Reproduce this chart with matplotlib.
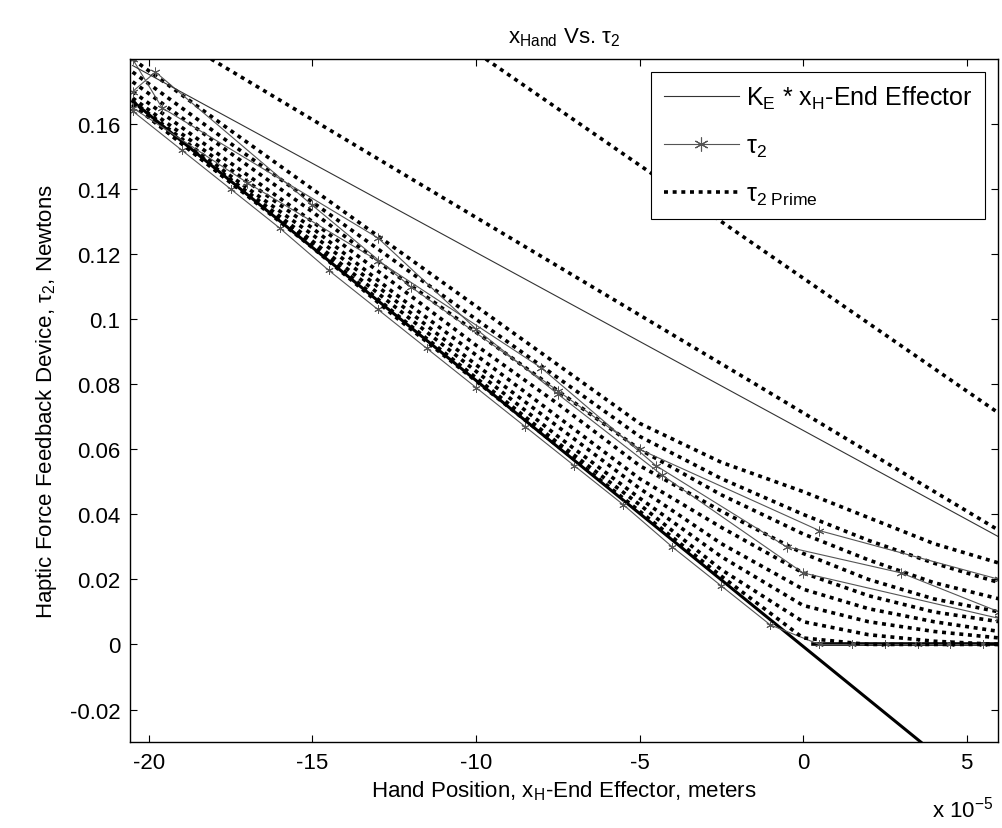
import matplotlib
matplotlib.use("Agg")
import matplotlib.pyplot as plt
import numpy as np

plt.rcParams["font.family"] = ["Liberation Sans", "DejaVu Sans"]
plt.rcParams["mathtext.fontset"] = "custom"
plt.rcParams["mathtext.rm"] = "Liberation Sans"
plt.rcParams["mathtext.it"] = "Liberation Sans"
plt.rcParams["mathtext.default"] = "rm"
plt.rcParams["axes.unicode_minus"] = False

# x positions in units of 1e-5 m
x_fan = [-20.5, -17.5, -15, -12.5, -10, -7.5, -5, -2.5, 0, 2, 4, 6]

# tau_2 prime curves (dotted)
prime_curves = [
    [0.180, 0.158, 0.140, 0.122, 0.104, 0.086, 0.068, 0.056, 0.047, 0.039, 0.031, 0.025],
    [0.176, 0.154, 0.136, 0.118, 0.100, 0.082, 0.064, 0.051, 0.040, 0.032, 0.025, 0.019],
    [0.173, 0.151, 0.133, 0.114, 0.096, 0.078, 0.060, 0.046, 0.034, 0.026, 0.019, 0.014],
    [0.170, 0.148, 0.130, 0.111, 0.092, 0.074, 0.055, 0.041, 0.028, 0.020, 0.014, 0.010],
    [0.168, 0.146, 0.128, 0.108, 0.089, 0.070, 0.051, 0.036, 0.022, 0.015, 0.010, 0.007],
    [0.167, 0.144, 0.126, 0.106, 0.086, 0.067, 0.048, 0.031, 0.017, 0.011, 0.007, 0.004],
    [0.166, 0.143, 0.124, 0.104, 0.084, 0.064, 0.045, 0.027, 0.012, 0.007, 0.004, 0.002],
    [0.166, 0.142, 0.123, 0.102, 0.082, 0.062, 0.043, 0.023, 0.007, 0.003, 0.001, 0.000],
    [0.166, 0.142, 0.122, 0.101, 0.081, 0.061, 0.041, 0.021, 0.002, 0.000, 0.000, 0.000],
]

# two long dotted curves at the top right
d1_x = [-9.7, 6.0]
d1_y = [0.180, 0.071]
d2_x = [-18.1, -11.7, -1.7, 6.0]
d2_y = [0.180, 0.1415, 0.0815, 0.035]

# K_E * x_H lines
ke_thin_x = [-20.5, 6.0]
ke_thin_y = [0.178, 0.033]
ke_thick_x = [-20.5, 3.6]
ke_thick_y = [0.167, -0.030]
zero_x = [0.3, 6.0]
zero_y = [0.0, 0.0]

# tau_2 curves (thin gray with stars)
tau_curves = [
    ([-20.5, -19.6, -13.0, -10.0, -7.5, -4.3, 0.0, 6.0],
     [0.180, 0.165, 0.125, 0.097, 0.077, 0.052, 0.022, 0.008]),
    ([-20.5, -19.8, -15.0, -12.0, -7.5, -5.0, 0.5, 6.0],
     [0.170, 0.176, 0.135, 0.110, 0.078, 0.060, 0.035, 0.020]),
    ([-20.5, -17.0, -13.0, -8.0, -4.5, -0.5, 3.0, 6.0],
     [0.165, 0.142, 0.118, 0.085, 0.055, 0.030, 0.022, 0.010]),
]
band_x = [-20.5, -19, -17.5, -16, -14.5, -13, -11.5, -10, -8.5, -7, -5.5, -4,
          -2.5, -1, 0.5, 1.5, 2.5, 3.5, 4.5, 5.5]
band_y = [0.164, 0.152, 0.140, 0.128, 0.115, 0.103, 0.091, 0.079, 0.067, 0.055,
          0.043, 0.030, 0.018, 0.006, 0.0, 0.0, 0.0, 0.0, 0.0, 0.0]

dot_style = dict(color="black", linestyle=(0, (1.1, 1.3)), linewidth=2.6,
                 dash_capstyle="butt")
star = (6, 2, 0)
fs = 16

fig = plt.figure(figsize=(10.03, 8.29), dpi=100)
ax = fig.add_axes([0.1296, 0.1037, 0.8654, 0.8239])

ax.plot(ke_thick_x, ke_thick_y, color="black", linewidth=2.2)
ax.plot(zero_x, zero_y, color="black", linewidth=2.6)
ax.plot(band_x, band_y, color="#555555", linewidth=0.8, marker=star,
        markersize=6, markeredgewidth=0.7)
for ys in prime_curves:
    ax.plot(x_fan, ys, **dot_style)
ax.plot(d1_x, d1_y, **dot_style)
ax.plot(d2_x, d2_y, **dot_style)
for xs, ys in tau_curves:
    ax.plot(xs, ys, color="#555555", linewidth=0.8, marker=star,
            markersize=7, markeredgewidth=0.7)

# legend handles
h1, = ax.plot(ke_thin_x, ke_thin_y, color="#333333", linewidth=0.8)
h2, = ax.plot([], [], color="#555555", linewidth=0.8, marker=star,
              markersize=10, markeredgewidth=0.8)
h3, = ax.plot([], [], **dot_style)

ax.set_xlim(-20.58, 5.96)
ax.set_ylim(-0.03, 0.18)
ax.set_xticks([-20, -15, -10, -5, 0, 5])
ax.set_yticks([-0.02, 0, 0.02, 0.04, 0.06, 0.08, 0.1, 0.12, 0.14, 0.16])
ax.set_yticklabels(["-0.02", "0", "0.02", "0.04", "0.06", "0.08", "0.1",
                    "0.12", "0.14", "0.16"])
ax.tick_params(direction="in", top=True, right=True, length=5, width=0.8,
               labelsize=fs, pad=7)
for s in ax.spines.values():
    s.set_linewidth(1.0)

ax.set_title(r"x$_{\mathrm{Hand}}$ Vs. τ$_2$", fontsize=fs, pad=12)
ax.set_xlabel(r"Hand Position, x$_{\mathrm{H}}$-End Effector, meters",
              fontsize=fs, labelpad=4)
ax.set_ylabel(r"Haptic Force Feedback Device, τ$_2$, Newtons", fontsize=fs,
              labelpad=8)
fig.text(0.99, 0.008, r"x 10$^{-5}$", fontsize=fs, ha="right", va="bottom")

leg = ax.legend([h1, h2, h3],
                [r"K$_{\mathrm{E}}$ * x$_{\mathrm{H}}$-End Effector", r"τ$_2$",
                 r"τ$_{2\ \mathrm{Prime}}$"],
                loc="upper right", fontsize=18, handlelength=3.0,
                handletextpad=0.3, labelspacing=0.9, borderpad=0.5,
                fancybox=False, framealpha=1, edgecolor="black",
                borderaxespad=0.5)
leg.get_frame().set_linewidth(0.8)

fig.savefig("out.png", dpi=100)
